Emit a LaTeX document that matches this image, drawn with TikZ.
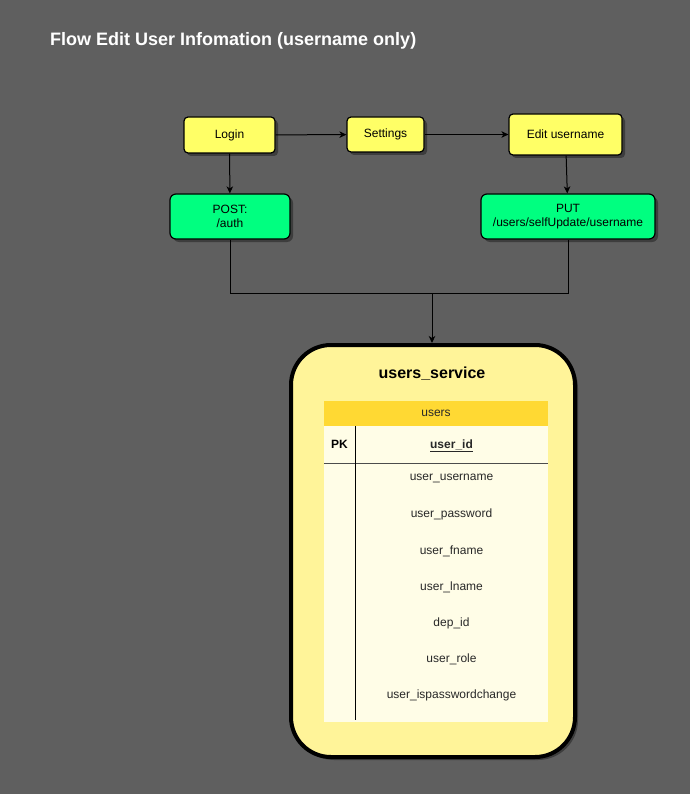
\documentclass[tikz,border=0pt]{standalone}
\usepackage{fontspec}
\setmainfont{Liberation Sans}
\usepackage{xcolor}
\usetikzlibrary{arrows,arrows.meta,shapes,shadows,positioning}

\begin{document}
\begin{tikzpicture}[x=1pt,y=-1pt,>={Stealth[length=7pt,width=6.5pt,inset=2pt]}]
    \definecolor{mybg}{RGB}{95,95,95}
    \definecolor{myyellow}{RGB}{255,255,102}
    \definecolor{mygreen}{RGB}{0,255,128}
    \definecolor{mycream}{RGB}{255,244,153}
    \definecolor{mygold}{RGB}{255,217,51}
    \definecolor{mypale}{RGB}{255,253,231}
    \definecolor{mytext}{RGB}{40,40,40}

    \fontsize{12pt}{14pt}\selectfont  % 字体大小
    \tikzstyle{shade}=[drop shadow={shadow xshift=3pt,shadow yshift=-3pt,fill=black,opacity=0.35}]
    \tikzstyle{screen}=[rectangle,rounded corners=4pt,draw,line width=1.2pt,fill=myyellow,shade,inner sep=0pt,align=center]  % 界面
    \tikzstyle{api}=[rectangle,rounded corners=6pt,draw,line width=1.2pt,fill=mygreen,shade,inner sep=0pt,align=center]  % 接口
    \tikzstyle{field}=[rectangle,inner sep=0pt,text=mytext,minimum width=193pt,minimum height=36.2pt]  % 字段

    % 背景
    \useasboundingbox[fill=mybg] (0,0) rectangle (690,794);
    \node[anchor=west,text=white,font=\fontsize{18pt}{20pt}\selectfont\bfseries](title) at (46,41){Flow Edit User Infomation (username only)};

    % 定义note
    \node[screen,minimum width=91pt,minimum height=36pt](login) at (229.5,135){Login};
    \node[screen,minimum width=77pt,minimum height=35pt](settings) at (385.5,134.5){Settings};
    \node[screen,minimum width=113pt,minimum height=41pt](edit) at (565.5,134.5){Edit username};
    \node[api,minimum width=120pt,minimum height=45pt](post) at (230,216.5){POST:\\/auth};
    \node[api,minimum width=174pt,minimum height=45pt](put) at (568,216.5){PUT\\/users/selfUpdate/username};

    % 服务
    \node[rectangle,rounded corners=40pt,draw,line width=4pt,fill=mycream,shade,minimum width=284pt,minimum height=412pt](svc) at (433,551){};
    \node[font=\fontsize{16pt}{18pt}\selectfont\bfseries](svcname) at (432,374){users\_service};
    \node[rectangle,fill=mypale,inner sep=0pt,minimum width=224pt,minimum height=296pt](body) at (436,574){};
    \node[rectangle,fill=mygold,inner sep=0pt,text=mytext,minimum width=224pt,minimum height=25pt](head) at (436,413.5){users};
    \node[rectangle,inner sep=0pt,minimum width=31pt,minimum height=37pt,font=\bfseries](pk) at (339.5,444.5){PK};
    \node[field,minimum height=37pt](id) at (451.5,446){\textbf{\underline{user\_id}}};
    \node[field](1) at (451.5,478.5){user\_username};
    \node[field,below of=1,node distance=36.2pt](2){user\_password};
    \node[field,below of=2,node distance=36.2pt](3){user\_fname};
    \node[field,below of=3,node distance=36.2pt](4){user\_lname};
    \node[field,below of=4,node distance=36.2pt](5){dep\_id};
    \node[field,below of=5,node distance=36.2pt](6){user\_role};
    \node[field,below of=6,node distance=36.2pt](7){user\_ispasswordchange};
    \draw[black!70](pk.south west) -- (pk.south west -| id.east);
    \draw[thick](pk.north east) -- ([yshift=2pt]pk.north east |- body.south);

    % 开始画线
    \draw[->,line width=1pt](login)--(settings);
    \draw[->,line width=1pt](settings)--(edit);
    \draw[->,line width=1pt](login)--(post);
    \draw[->,line width=1pt](edit)--(put);
    \coordinate(joint) at (432,293);
    \draw[line width=1pt](post.south) |- (joint);
    \draw[line width=1pt](put.south) |- (joint);
    \draw[->,line width=1pt](joint) -- (joint |- svc.north);
\end{tikzpicture}
\end{document}
